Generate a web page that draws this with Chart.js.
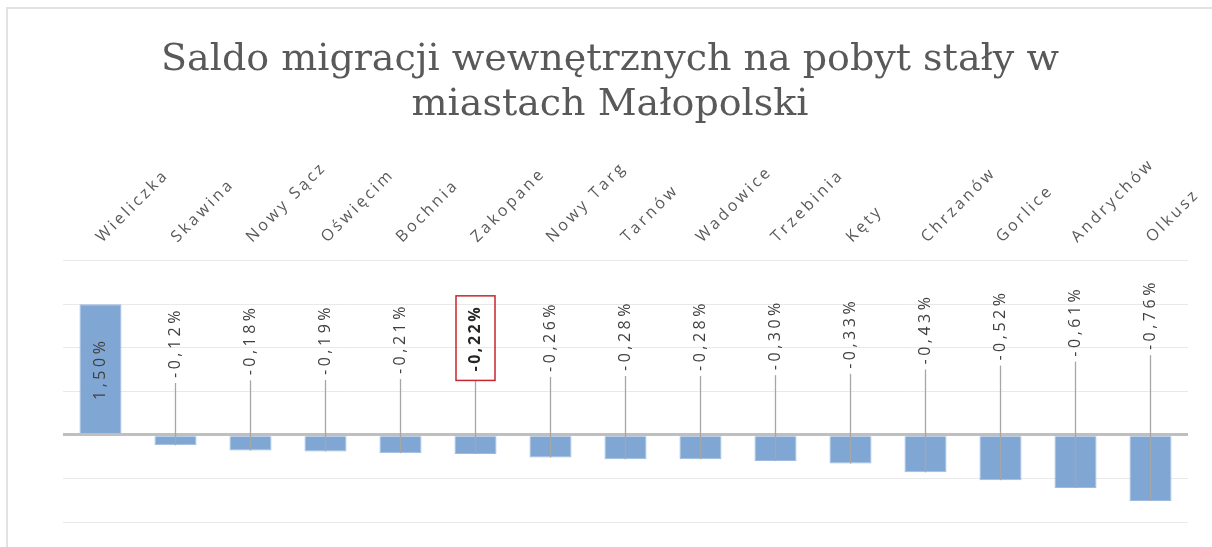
<!DOCTYPE html>
<html lang="pl">
<head>
<meta charset="utf-8">
<title>Saldo migracji wewnętrznych</title>
<script src="https://cdn.jsdelivr.net/npm/chart.js@4.4.1/dist/chart.umd.min.js"></script>
<style>
    html, body { margin: 0; padding: 0; background: #fff; }
    .wrap { position: relative; width: 1212px; height: 547px; }
    .frame {
        position: absolute; left: 6px; top: 7px; right: 0; bottom: 0;
        border-top: 2px solid #e2e2e2; border-left: 2px solid #e2e2e2;
        pointer-events: none;
    }
</style>
</head>
<body>
<div class="wrap">
    <canvas id="migrationChart" width="1212" height="547"></canvas>
    <div class="frame"></div>
</div>
<script>
// Data
const cities = ['Wieliczka', 'Skawina', 'Nowy Sącz', 'Oświęcim', 'Bochnia', 'Zakopane', 'Nowy Targ',
    'Tarnów', 'Wadowice', 'Trzebinia', 'Kęty', 'Chrzanów', 'Gorlice', 'Andrychów', 'Olkusz'];
const saldo = [1.50, -0.12, -0.18, -0.19, -0.21, -0.22, -0.26, -0.28, -0.28, -0.30, -0.33, -0.43, -0.52, -0.61, -0.76];
const yTicks = [-1.0, -0.5, 0, 0.5, 1.0, 1.5, 2.0];
const highlighted = 'Zakopane';

const titleLines = ['Saldo migracji wewnętrznych na pobyt stały w', 'miastach Małopolski'];

const TICK_SPACING = '3px';

function formatPct(v) {
    return v.toFixed(2).replace('.', ',') + '%';
}

// Rotated value labels with leader lines (Excel style)
const valueLabels = {
    id: 'valueLabels',
    beforeLayout(chart) {
        // measure category labels with the same spacing they are drawn with
        chart.ctx.letterSpacing = TICK_SPACING;
    },
    beforeDraw(chart) {
        chart.ctx.letterSpacing = '0px';
    },
    afterDatasetsDraw(chart) {
        const ctx = chart.ctx;
        const yScale = chart.scales.y;
        const meta = chart.getDatasetMeta(0);
        meta.data.forEach((bar, i) => {
            const v = saldo[i];
            const text = formatPct(v);
            const isHi = cities[i] === highlighted;
            ctx.save();
            ctx.font = (isHi ? 'bold ' : '') + '16px "Open Sans", sans-serif';
            ctx.letterSpacing = isHi ? '2.5px' : '3.5px';
            const len = ctx.measureText(text).width;
            let cy;
            if (v > 0) {
                cy = (bar.y + bar.base) / 2;
            } else {
                cy = yScale.getPixelForValue(1.0 + 0.5 * Math.abs(v));
                let lineTop = cy + len / 2 + 5;
                if (isHi) lineTop = cy + len / 2 + 9;
                ctx.strokeStyle = '#a6a6a6';
                ctx.lineWidth = 1.3;
                ctx.beginPath();
                ctx.moveTo(bar.x, lineTop);
                ctx.lineTo(bar.x, bar.y);
                ctx.stroke();
            }
            if (isHi) {
                ctx.strokeStyle = '#c8262c';
                ctx.lineWidth = 1.5;
                ctx.strokeRect(bar.x - 19.5, cy - len / 2 - 9, 39, len + 18);
            }
            ctx.translate(bar.x, cy);
            ctx.rotate(-Math.PI / 2);
            ctx.fillStyle = isHi ? '#262626' : '#404040';
            ctx.textAlign = 'center';
            ctx.textBaseline = 'middle';
            ctx.fillText(text, 0, 0);
            ctx.restore();
        });
        // category labels are on a later layer (ticks.z = 1)
        ctx.letterSpacing = TICK_SPACING;
    },
    afterDraw(chart) {
        chart.ctx.letterSpacing = '0px';
    }
};

const ctx = document.getElementById('migrationChart');

new Chart(ctx, {
    type: 'bar',
    data: {
        labels: cities,
        datasets: [{
            data: saldo,
            backgroundColor: '#80a6d4',
            borderColor: '#9dbbe0',
            borderWidth: 1,
            categoryPercentage: 1.0,
            barPercentage: 0.56
        }]
    },
    options: {
        responsive: false,
        animation: false,
        layout: {
            padding: { left: 32, right: 24, bottom: 25, top: 0 }
        },
        plugins: {
            legend: { display: false },
            tooltip: { enabled: false },
            title: {
                display: true,
                text: titleLines,
                color: '#595959',
                font: { family: '"DejaVu Serif", serif', size: 38, weight: 'normal', lineHeight: 1.18 },
                padding: { top: 38, bottom: 21 }
            }
        },
        scales: {
            x: {
                position: 'top',
                grid: { display: false },
                border: { display: false },
                ticks: {
                    z: 1,
                    autoSkip: false,
                    minRotation: 45,
                    maxRotation: 45,
                    padding: 6,
                    labelOffset: 12,
                    color: '#595959',
                    font: { family: '"Open Sans", sans-serif', size: 16 }
                }
            },
            y: {
                min: -1.0,
                max: 2.0,
                afterBuildTicks: function(scale) {
                    scale.ticks = yTicks.map(v => ({ value: v }));
                },
                afterFit: function(scale) {
                    scale.width = 31;
                },
                border: { display: false },
                grid: {
                    drawTicks: false,
                    color: c => c.tick && c.tick.value === 0 ? '#bfbfbf' : '#e9e9e9',
                    lineWidth: c => c.tick && c.tick.value === 0 ? 3 : 1
                },
                ticks: { display: false }
            }
        }
    },
    plugins: [valueLabels]
});
</script>
</body>
</html>
